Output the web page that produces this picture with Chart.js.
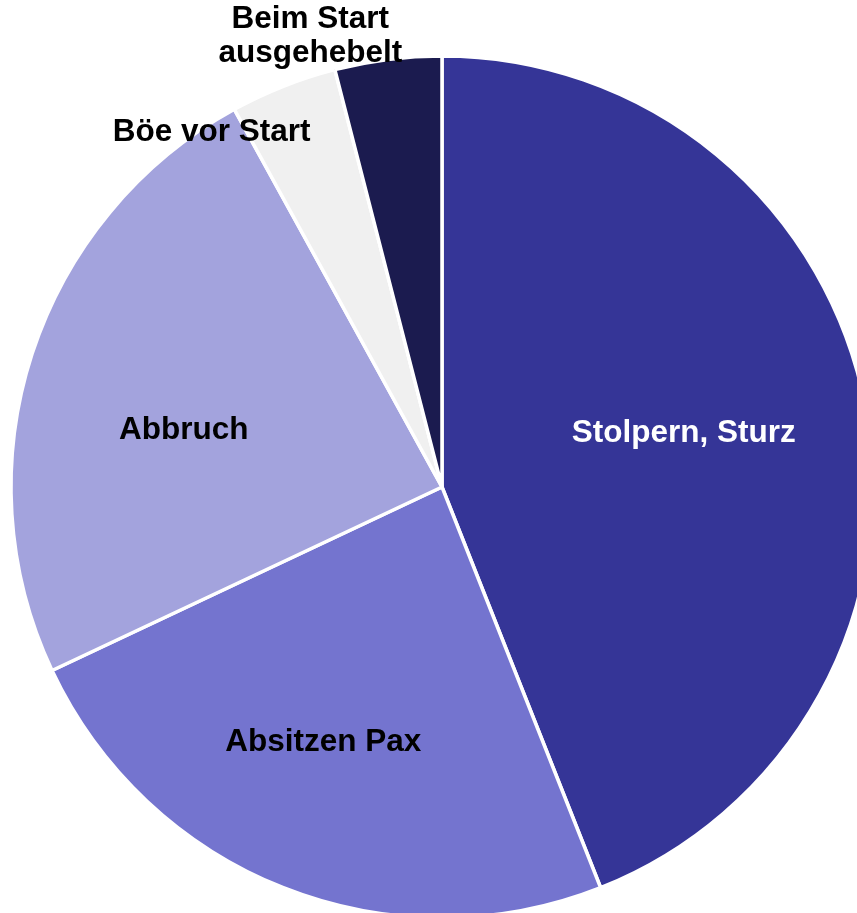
<!DOCTYPE html>
<html>
<head>
<meta charset="utf-8">
<script src="https://cdn.jsdelivr.net/npm/chart.js@4"></script>
<style>
  html, body { margin: 0; padding: 0; background: #fff; overflow: hidden; }
  #wrap { position: absolute; left: 0; top: 0; width: 884px; height: 974px; }
</style>
</head>
<body>
<div id="wrap"><canvas id="pie" width="884" height="974"></canvas></div>
<script>
// --- data (counts: 44% / 24% / 24% / 4% / 4%) ---
const categories = ["Stolpern, Sturz", "Absitzen Pax", "Abbruch", "Böe vor Start", ["Beim Start", "ausgehebelt"]];
const counts = [11, 6, 6, 1, 1];
const sliceColors = ["#353597", "#7474CF", "#A3A3DD", "#F0F0F0", "#1B1B4F"];
const labelColors = ["#ffffff", "#000000", "#000000", "#000000", "#000000"];

// label placement (fraction of radius, angle shift in degrees) - mimics Excel best fit
const labelFrac = [0.576, 0.647, 0.615, 0.987, 1.095];
const labelShift = [-2.3, 3.6, -4.9, -11.2, -9.0];

const sliceLabels = {
  id: "sliceLabels",
  afterDatasetsDraw(chart) {
    const ctx = chart.ctx;
    const arcs = chart.getDatasetMeta(0).data;
    ctx.save();
    ctx.font = "bold 31.5px 'Liberation Sans', Arial, sans-serif";
    ctx.textAlign = "center";
    ctx.textBaseline = "middle";
    arcs.forEach((arc, i) => {
      const p = arc.getProps(["x", "y", "startAngle", "endAngle", "outerRadius"], true);
      const mid = (p.startAngle + p.endAngle) / 2 + labelShift[i] * Math.PI / 180;
      const r = p.outerRadius * labelFrac[i];
      const x = p.x + Math.cos(mid) * r;
      const y = p.y + Math.sin(mid) * r;
      const lines = Array.isArray(categories[i]) ? categories[i] : [categories[i]];
      const lh = 34;
      ctx.fillStyle = labelColors[i];
      lines.forEach((ln, k) => {
        ctx.fillText(ln, x, y + (k - (lines.length - 1) / 2) * lh + 3);
      });
    });
    ctx.restore();
  }
};

new Chart(document.getElementById("pie"), {
  type: "pie",
  data: {
    labels: categories.map(c => Array.isArray(c) ? c.join(" ") : c),
    datasets: [{
      data: counts,
      backgroundColor: sliceColors,
      borderColor: "#ffffff",
      borderWidth: 3.5
    }]
  },
  options: {
    responsive: false,
    animation: false,
    radius: 431,
    layout: { padding: 0 },
    plugins: {
      legend: { display: false },
      tooltip: { enabled: false }
    }
  },
  plugins: [sliceLabels]
});
</script>
</body>
</html>
